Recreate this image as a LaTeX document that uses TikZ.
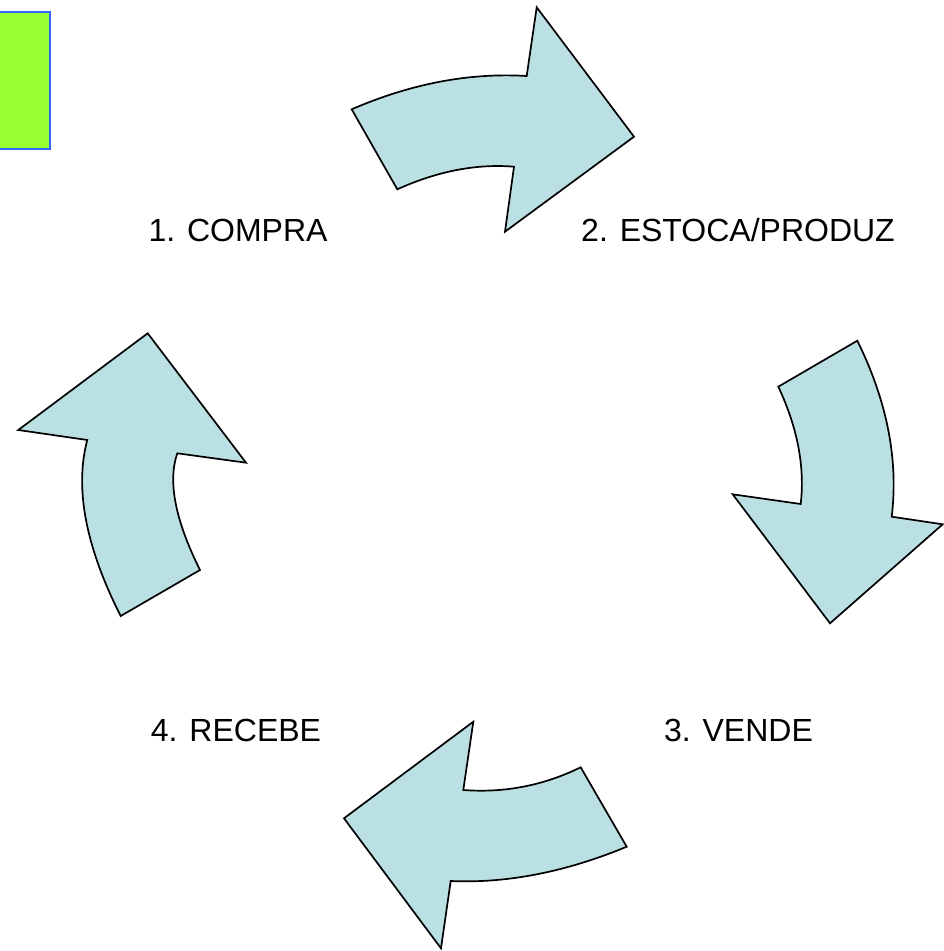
\documentclass[tikz,border=0pt]{standalone}
\usepackage{fontspec}
\setmainfont{Liberation Sans}
\definecolor{arrowfill}{RGB}{187,224,227}
\definecolor{boxgreen}{RGB}{153,255,51}
\definecolor{boxblue}{RGB}{51,102,255}
\tikzset{
  cyclearrow/.style={fill=arrowfill, draw=black, line width=1.7pt, line join=miter},
  steplabel/.style={font=\fontsize{32}{38}\selectfont, inner sep=0pt, anchor=base}
}
\begin{document}
\begin{tikzpicture}[x=1pt,y=-1pt]
\useasboundingbox (0,0) rectangle (943,951);
% green box
\draw[fill=boxgreen, draw=boxblue, line width=1.8pt] (-3,12.3) rectangle (50,149);
% top arrow
\draw[cyclearrow] (351.7,109.3) .. controls (411.1,83.6) and (469.4,72.5) .. (526.7,76)
  -- (536.7,7.3) -- (634,136.7) -- (505,231.7) -- (514,166.7)
  .. controls (476.5,163.6) and (437.6,171.1) .. (397.3,189.3) -- cycle;
% right arrow
\draw[cyclearrow] (857.3,340.7) .. controls (887.1,401.1) and (898.6,459.8) .. (891.7,516.7)
  -- (942.7,524.3) -- (830,623.3) -- (732.7,494.3) -- (800.7,504)
  .. controls (805,466.7) and (797.5,427.6) .. (778.3,386.7) -- cycle;
% bottom arrow
\draw[cyclearrow] (626.7,846.7) -- (580.7,767.3)
  .. controls (543.3,785.6) and (504.2,793.1) .. (463.3,790)
  -- (473.3,721.7) -- (344,818.3) -- (441,948.3) -- (450.7,881)
  .. controls (506.7,883.5) and (565.4,872.1) .. (626.7,846.7) -- cycle;
% left arrow
\draw[cyclearrow] (120.7,616) -- (200,570)
  .. controls (175.1,520) and (167.6,481.1) .. (177.3,453.3)
  -- (246,462.7) -- (147.7,333.3) -- (18.3,430) -- (87.3,440)
  .. controls (74.4,488) and (85.6,546.7) .. (120.7,616) -- cycle;
% labels
\node[steplabel] (compra) at (238,241) {1. COMPRA};
\node[steplabel] (estoca) at (738,241) {2. ESTOCA/PRODUZ};
\node[steplabel] (vende) at (738.5,741) {3. VENDE};
\node[steplabel] (recebe) at (236,741) {4. RECEBE};
\end{tikzpicture}
\end{document}
